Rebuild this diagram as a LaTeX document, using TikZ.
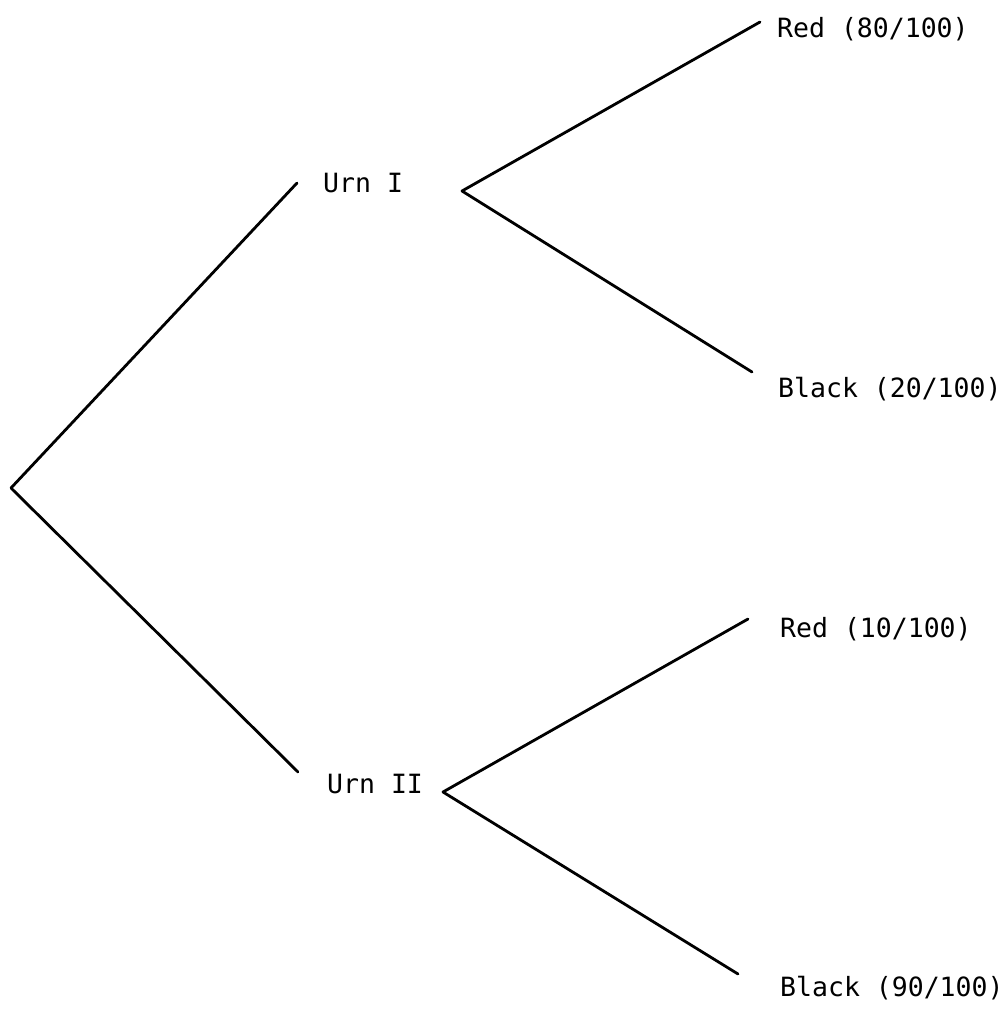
\documentclass[tikz,border=0pt]{standalone}
\usepackage{fontspec}
\setmonofont{DejaVu Sans Mono}
\begin{document}
\begin{tikzpicture}[x=1pt,y=-1pt,
  branch/.style={line width=2.8pt,line cap=round,line join=round},
  lbl/.style={anchor=base west,inner sep=0pt,font=\ttfamily\fontsize{26.5}{30}\selectfont}]
\useasboundingbox (0,0) rectangle (1003,1009);
% branch points and free line ends
\coordinate (root) at (11,488);
\coordinate (u1) at (297,183);
\coordinate (u2) at (298,772);
\coordinate (f1) at (462,191);
\coordinate (f2) at (443,792);
\coordinate (r1) at (760,22);
\coordinate (b1) at (752,372);
\coordinate (r2) at (748,619);
\coordinate (b2) at (738,974);
% labels
\node[lbl] (urnI)  at (323,192) {Urn I};
\node[lbl] (urnII) at (327,793) {Urn II};
\node[lbl] (red1)   at (777,37)  {Red (80/100)};
\node[lbl] (black1) at (778,397) {Black (20/100)};
\node[lbl] (red2)   at (780,637) {Red (10/100)};
\node[lbl] (black2) at (780,996) {Black (90/100)};
% tree
\draw[branch] (u1) -- (root) -- (u2);
\draw[branch] (r1) -- (f1) -- (b1);
\draw[branch] (r2) -- (f2) -- (b2);
\end{tikzpicture}
\end{document}
